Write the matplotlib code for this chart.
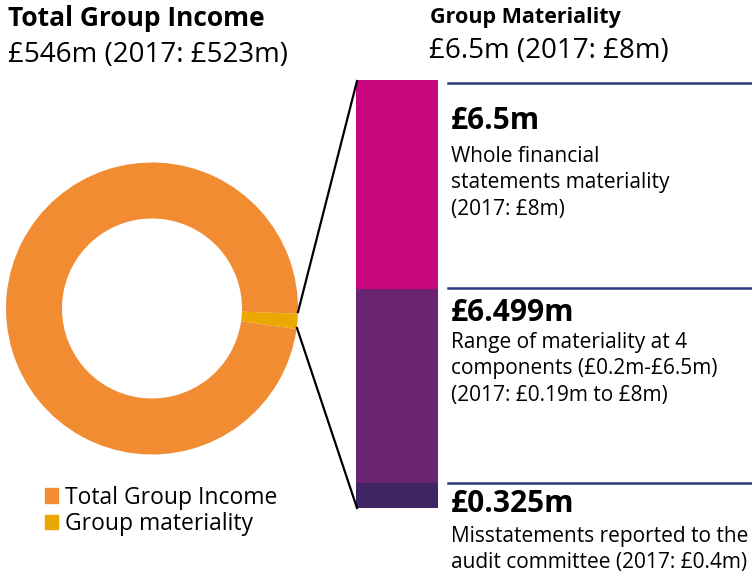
import matplotlib
matplotlib.use('Agg')
import matplotlib.pyplot as plt
from matplotlib.patches import Patch

plt.rcParams['font.family'] = ['Open Sans', 'DejaVu Sans']

# donut shares (percent of full circle)
donut_labels = ['Total Group Income', 'Group materiality']
donut_shares = [98.3, 1.7]
donut_colors = ['#F28C33', '#EBA800']

# stacked bar segments, bottom to top (heights as drawn)
bar_segments = [25, 194, 209]
bar_colors = ['#3F2563', '#6A2472', '#C8077F']

# annotations for each band, top to bottom
band_titles = ['£6.5m', '£6.499m', '£0.325m']
band_texts = ['Whole financial\nstatements materiality\n(2017: £8m)',
              'Range of materiality at 4\ncomponents (£0.2m-£6.5m)\n(2017: £0.19m to £8m)',
              'Misstatements reported to the\naudit committee (2017: £0.4m)']

W, H = 752, 577
fig = plt.figure(figsize=(W / 100, H / 100), dpi=100)
ax = fig.add_axes([0, 0, 1, 1])

# donut (y axis is flipped later, so angles run clockwise on screen)
cx, cy, r_out, ring = 152, 308.5, 146, 56
ax.pie(donut_shares[::-1], colors=donut_colors[::-1], startangle=2,
       center=(cx, cy), radius=r_out, wedgeprops=dict(width=ring, linewidth=0))

# stacked bar
bar_x, bar_w, bar_base = 356, 82, 508
bottom = bar_base
for h, c in zip(bar_segments, bar_colors):
    ax.bar(bar_x, -h, bottom=bottom, width=bar_w, align='edge', color=c, linewidth=0)
    bottom -= h
bar_top = bottom

# connector lines from wedge to bar
ax.plot([bar_x + 1, 298], [bar_top + 1, 312], color='black', lw=1.6)
ax.plot([bar_x + 1, 297], [bar_base, 328], color='black', lw=1.6)

# horizontal rules and band labels
rule_y = [83, 288, 483]
title_y = [121, 313, 504]
body_y = [156, 342, 536]
for ry, ty, by, t, txt in zip(rule_y, title_y, body_y, band_titles, band_texts):
    ax.plot([448, W], [ry, ry], color='#2B3A7A', lw=1.8)
    ax.text(451, ty, t, fontsize=21.5, fontweight='bold', va='center', ha='left')
    ax.text(451, by - 10, txt, fontsize=15, va='top', ha='left', linespacing=1.34)

# headings
ax.text(8, 18, 'Total Group Income', fontsize=19, fontweight='bold', va='center')
ax.text(8, 55, '£546m (2017: £523m)', fontsize=20, va='center')
ax.text(430, 18, 'Group Materiality', fontsize=15.5, fontweight='bold', va='center')
ax.text(429, 51, '£6.5m (2017: £8m)', fontsize=20, va='center')

ax.set_xlim(0, W)
ax.set_ylim(H, 0)
ax.set_aspect('auto')
ax.axis('off')

handles = [Patch(color=c, label=l) for c, l in zip(donut_colors, donut_labels)]
fig.legend(handles=handles, loc='upper left', bbox_to_anchor=(40 / W, 1 - 481 / H),
           frameon=False, fontsize=16.5, handlelength=0.6, handleheight=0.6,
           handletextpad=0.3, labelspacing=0.1, borderaxespad=0, borderpad=0.2)

plt.savefig('out.png', dpi=100)
plt.close(fig)
